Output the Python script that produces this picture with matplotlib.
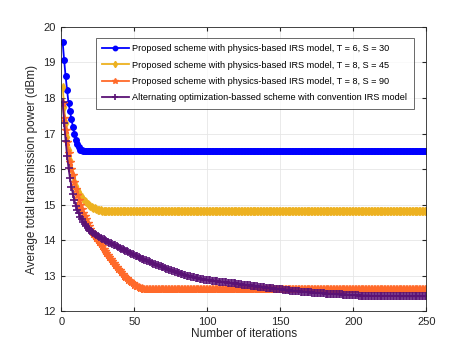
import numpy as np
import matplotlib.pyplot as plt

plt.rcParams['font.family'] = ['Liberation Sans', 'DejaVu Sans']

# ===== Data =====
n_iter = 250
iterations = np.arange(1, n_iter + 1)

# T = 6, S = 30
blue_head = [19.57, 19.06, 18.61, 18.23, 17.85, 17.62, 17.40, 17.19, 17.00, 16.83,
             16.70, 16.61, 16.55, 16.53]
blue_flat = 16.52

# T = 8, S = 45
yellow_head = [18.32, 17.75, 17.30, 16.90, 16.55, 16.25, 16.00, 15.80, 15.65, 15.52,
               15.42, 15.34, 15.27, 15.21, 15.16, 15.11, 15.07, 15.03, 14.99, 14.96,
               14.93, 14.91, 14.89, 14.87, 14.86, 14.85, 14.84, 14.83]
yellow_flat = 14.82

# T = 8, S = 90
orange_head = [17.85, 17.45, 17.10, 16.75, 16.45, 16.20, 16.00, 15.82, 15.63, 15.45,
               15.28, 15.12, 14.98, 14.87, 14.77, 14.67, 14.58, 14.49, 14.40, 14.32,
               14.24, 14.18, 14.12, 14.06, 14.00, 13.94, 13.88, 13.82, 13.76, 13.70,
               13.65, 13.59, 13.53, 13.47, 13.41, 13.36, 13.30, 13.25, 13.20, 13.15,
               13.10, 13.05, 13.00, 12.96, 12.92, 12.88, 12.84, 12.81, 12.78, 12.75,
               12.72, 12.70, 12.68, 12.66, 12.64, 12.63, 12.62]
orange_flat = 12.62

# alternating optimization, conventional IRS model
purple = [17.90, 17.30, 16.80, 16.38, 16.02, 15.74, 15.50, 15.30, 15.12, 14.97,
          14.85, 14.75, 14.66, 14.58, 14.51, 14.45, 14.39, 14.34, 14.29, 14.25,
          14.22, 14.19, 14.16, 14.14, 14.11, 14.09, 14.06, 14.04, 14.02, 14.00,
          13.98, 13.95, 13.93, 13.91, 13.89, 13.87, 13.85, 13.82, 13.80, 13.78,
          13.76, 13.74, 13.72, 13.70, 13.68, 13.66, 13.64, 13.62, 13.60, 13.58,
          13.56, 13.54, 13.52, 13.50, 13.48, 13.47, 13.45, 13.43, 13.41, 13.40,
          13.38, 13.36, 13.34, 13.33, 13.31, 13.29, 13.28, 13.26, 13.25, 13.23,
          13.21, 13.20, 13.18, 13.17, 13.15, 13.14, 13.12, 13.11, 13.09, 13.08,
          13.07, 13.05, 13.04, 13.03, 13.02, 13.00, 12.99, 12.98, 12.97, 12.96,
          12.95, 12.94, 12.93, 12.92, 12.91, 12.90, 12.90, 12.89, 12.88, 12.88,
          12.87, 12.87, 12.86, 12.85, 12.85, 12.84, 12.84, 12.83, 12.83, 12.82,
          12.82, 12.81, 12.81, 12.80, 12.80, 12.79, 12.79, 12.78, 12.78, 12.77,
          12.77, 12.76, 12.76, 12.75, 12.75, 12.74, 12.74, 12.73, 12.73, 12.72,
          12.71, 12.71, 12.70, 12.70, 12.69, 12.69, 12.68, 12.67, 12.67, 12.66,
          12.66, 12.65, 12.65, 12.64, 12.64, 12.63, 12.63, 12.62, 12.62, 12.61,
          12.61, 12.60, 12.60, 12.60, 12.59, 12.59, 12.58, 12.58, 12.57, 12.57,
          12.57, 12.56, 12.56, 12.55, 12.55, 12.55, 12.54, 12.54, 12.53, 12.53,
          12.53, 12.52, 12.52, 12.52, 12.51, 12.51, 12.51, 12.50, 12.50, 12.50,
          12.49, 12.49, 12.49, 12.49, 12.48, 12.48, 12.48, 12.48, 12.47, 12.47,
          12.47, 12.47, 12.46, 12.46, 12.46, 12.46, 12.46, 12.45, 12.45, 12.45,
          12.45, 12.45, 12.45, 12.44, 12.44, 12.44, 12.44, 12.44, 12.44, 12.44,
          12.44, 12.43, 12.43, 12.43, 12.43, 12.43, 12.43, 12.43, 12.43, 12.43,
          12.43, 12.43, 12.43, 12.43, 12.43, 12.43, 12.43, 12.43, 12.43, 12.43,
          12.42, 12.42, 12.42, 12.42, 12.42, 12.42, 12.42, 12.42, 12.42, 12.42,
          12.42, 12.42, 12.42, 12.42, 12.42, 12.42, 12.42, 12.42, 12.42, 12.42]

labels = ['Proposed scheme with physics-based IRS model, T = 6, S = 30',
          'Proposed scheme with physics-based IRS model, T = 8, S = 45',
          'Proposed scheme with physics-based IRS model, T = 8, S = 90',
          'Alternating optimization-bassed scheme with convention IRS model']


def full(head, flat):
    # curva que converge e fica constante ate o fim
    return head + [flat] * (n_iter - len(head))


blue = full(blue_head, blue_flat)
yellow = full(yellow_head, yellow_flat)
orange = full(orange_head, orange_flat)

fig = plt.figure(figsize=(4.71, 3.5), dpi=100)
ax = fig.add_axes([0.130, 0.111, 0.775, 0.812])

ax.plot(iterations, blue, color='#0000FF', marker='o', markersize=4, linewidth=1.3, label=labels[0])
ax.plot(iterations, yellow, color='#EDB120', marker='d', markersize=4, linewidth=1.3, label=labels[1])
ax.plot(iterations, orange, color='#FF6A2A', marker='*', markersize=5.5, linewidth=1.3, label=labels[2])
ax.plot(iterations, purple, color='#5A1275', marker='+', markersize=6, markeredgewidth=1.2,
        linewidth=1.3, label=labels[3])

ax.set_xlim(0, 250)
ax.set_ylim(12, 20)
ax.set_xticks(np.arange(0, 251, 50))
ax.set_yticks(np.arange(12, 21, 1))
ax.grid(True, color='#E6E6E6', linewidth=0.6)
ax.set_axisbelow(True)
ax.tick_params(direction='in', top=True, right=True, labelsize=8, colors='#262626', length=3, pad=4)
for s in ax.spines.values():
    s.set_color('#262626')
    s.set_linewidth(0.6)

ax.set_xlabel('Number of iterations', fontsize=8.5, color='#262626', labelpad=1)
ax.set_ylabel('Average total transmission power (dBm)', fontsize=8.5, color='#262626', labelpad=4)

leg = ax.legend(loc='upper right', bbox_to_anchor=(0.978, 0.978), fontsize=6.6, frameon=True,
                fancybox=False, edgecolor='#262626', handlelength=2.9, borderpad=0.7,
                labelspacing=0.8, handletextpad=0.4, markerscale=0.8)
leg.get_frame().set_linewidth(0.6)

fig.savefig('out.png', dpi=100)
